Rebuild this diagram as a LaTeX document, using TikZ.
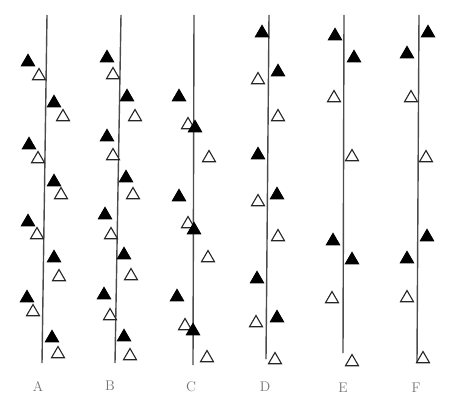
\documentclass[tikz,border=0pt]{standalone}
\usetikzlibrary{shapes.geometric}
\begin{document}
\begin{tikzpicture}[x=1pt,y=-1pt,
  axis/.style={line width=1.4pt,black!70},
  tri/.style={regular polygon,regular polygon sides=3,inner sep=0pt,minimum size=15pt,line width=1.1pt},
  full/.style={tri,fill=black,draw=black},
  open/.style={tri,fill=white,draw=black!85},
  lab/.style={font=\fontsize{14}{16}\selectfont,text=black!55}]
\useasboundingbox (0,0) rectangle (457,409);
% axes
\foreach \n/\xt/\xb/\yb in {A/47/42/363,B/121/115/363,C/194/193/365,D/269/266/359,E/344/343/353,F/419/417/362}{
  \coordinate (top\n) at (\xt,15);
  \coordinate (bot\n) at (\xb,\yb);
  \draw[axis] (top\n) -- (bot\n);
}
% labels
\node[lab] (labA) at (38,386) {A};
\node[lab] (labB) at (110,386) {B};
\node[lab] (labC) at (191,387) {C};
\node[lab] (labD) at (265,387) {D};
\node[lab] (labE) at (343,388) {E};
\node[lab] (labF) at (416,388) {F};
% column A
\foreach \x/\y/\s [count=\i] in {28/62/full,39/76/open,54/103/full,63/117/open,29/145/full,38/159/open,54/182/full,61/195/open,28/222/full,37/235/open,54/258/full,59/277/open,27/298/full,33/312/open,52/338/full,58/354/open}
  \node[\s] (a\i) at (\x,\y) {};
% column B
\foreach \x/\y/\s [count=\i] in {107/58/full,113/75/open,127/97/full,135/117/open,107/137/full,113/156/open,126/178/full,133/195/open,105/215/full,111/235/open,124/255/full,131/276/open,104/295/full,110/316/open,124/337/full,130/356/open}
  \node[\s] (b\i) at (\x,\y) {};
% column C
\foreach \x/\y/\s [count=\i] in {179/97/full,188/125/open,195/128/full,209/158/open,179/197/full,188/224/open,194/230/full,208/258/open,177/297/full,185/326/open,193/331/full,207/358/open}
  \node[\s] (c\i) at (\x,\y) {};
% column D
\foreach \x/\y/\s [count=\i] in {262/33/full,278/72/full,258/80/open,278/117/open,258/155/full,277/195/full,258/202/open,278/237/open,257/279/full,277/318/full,256/323/open,275/360/open}
  \node[\s] (d\i) at (\x,\y) {};
% column E
\foreach \x/\y/\s [count=\i] in {335/36/full,354/58/full,334/98/open,352/157/open,333/241/full,352/260/full,332/299/open,352/362/open}
  \node[\s] (e\i) at (\x,\y) {};
% column F
\foreach \x/\y/\s [count=\i] in {428/33/full,407/54/full,411/98/open,426/158/open,427/237/full,407/259/full,407/298/open,423/359/open}
  \node[\s] (f\i) at (\x,\y) {};
\end{tikzpicture}
\end{document}
